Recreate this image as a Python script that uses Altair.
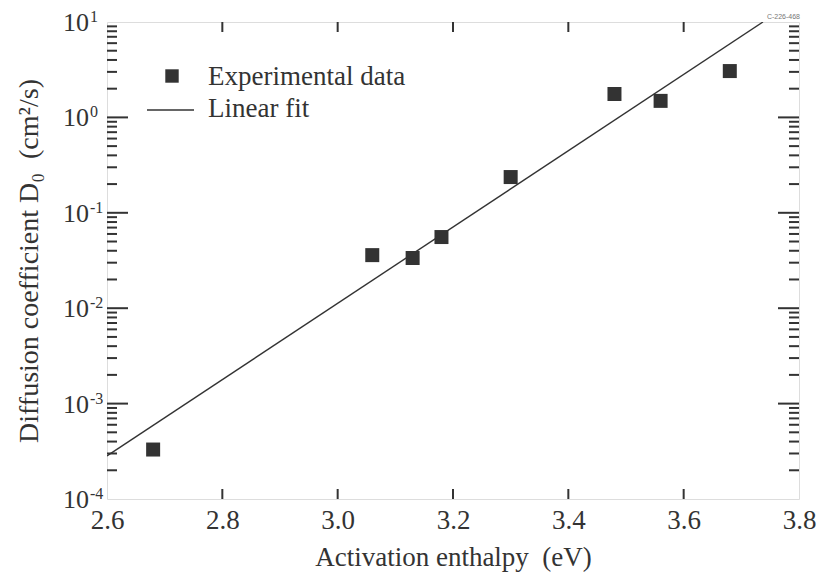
import altair as alt
import pandas as pd

# ---- data ----
energy = [2.68, 3.06, 3.13, 3.18, 3.30, 3.48, 3.56, 3.68]
d0 = [3.3e-4, 0.036, 0.0336, 0.0557, 0.237, 1.76, 1.49, 3.06]
fit_energy = [2.6, 3.7375]
fit_d0 = [2.83e-4, 10.0]
x_ticks = [2.6, 2.8, 3.0, 3.2, 3.4, 3.6, 3.8]
y_decades = [1e-4, 1e-3, 1e-2, 1e-1, 1e0, 1e1]
y_exponents = ["-4", "-3", "-2", "-1", "0", "1"]
legend_labels = ["Experimental data", "Linear fit"]
x_title = "Activation enthalpy\u00a0 (eV)"
y_title = "Diffusion coefficient D\u2080\u00a0 (cm\u00b2/s)"
stamp = "C-226-468"

W, H = 692, 477
INK = "#333333"
FONT = "Liberation Serif"

y_minor = [d * k for d in y_decades[:-1] for k in range(2, 10)]

pts = pd.DataFrame({"E": energy, "D": d0})
fit = pd.DataFrame({"E": fit_energy, "D": fit_d0})
xt = pd.DataFrame({"E": x_ticks[1:-1]})
ymaj = pd.DataFrame({"D": y_decades[1:-1]})
ymin = pd.DataFrame({"D": y_minor})
ylab = pd.DataFrame({"D": y_decades, "exp": y_exponents, "base": ["10"] * len(y_decades)})

xs = alt.Scale(domain=[2.6, 3.8], nice=False, zero=False)
ys = alt.Scale(type="log", domain=[1e-4, 10], nice=False)

X = alt.X("E:Q", scale=xs, axis=alt.Axis(
    values=x_ticks, format=".1f", labelFont=FONT, labelFontSize=27, labelColor=INK,
    ticks=False, domain=False, grid=False, labelPadding=8, labelFlush=False,
    title=x_title, titleFont=FONT, titleFontSize=27, titleFontWeight="normal",
    titleColor=INK, titlePadding=11))
Y = alt.Y("D:Q", scale=ys, axis=None)

TW = 2
points = alt.Chart(pts).mark_point(shape="square", filled=True, size=196, color=INK, opacity=1).encode(x=X, y=Y)
line = alt.Chart(fit).mark_line(color=INK, strokeWidth=1.4, clip=True).encode(x=X, y=Y)

# inward ticks
ymaj_l = alt.Chart(ymaj).mark_rule(color=INK, strokeWidth=TW).encode(x=alt.value(0), x2=alt.value(21), y=Y)
ymaj_r = alt.Chart(ymaj).mark_rule(color=INK, strokeWidth=TW).encode(x=alt.value(W), x2=alt.value(W - 21), y=Y)
ymin_l = alt.Chart(ymin).mark_rule(color=INK, strokeWidth=TW).encode(x=alt.value(0), x2=alt.value(10), y=Y)
ymin_r = alt.Chart(ymin).mark_rule(color=INK, strokeWidth=TW).encode(x=alt.value(W), x2=alt.value(W - 10), y=Y)
xb = alt.Chart(xt).mark_rule(color=INK, strokeWidth=TW).encode(x=X, y=alt.value(H), y2=alt.value(H - 10))
xtp = alt.Chart(xt).mark_rule(color=INK, strokeWidth=TW).encode(x=X, y=alt.value(0), y2=alt.value(10))

# y tick labels: 10 with superscript exponent
ybase = alt.Chart(ylab).mark_text(font=FONT, fontSize=26, align="right", baseline="alphabetic",
                                   dy=9, color=INK).encode(x=alt.value(-18), y=Y, text="base:N")
yexp = alt.Chart(ylab).mark_text(font=FONT, fontSize=16, align="left", baseline="alphabetic",
                                  dy=0, color=INK).encode(x=alt.value(-17), y=Y, text="exp:N")

ytitle = alt.Chart(pd.DataFrame({"t": [y_title]})).mark_text(
    font=FONT, fontSize=28, angle=270, align="center", baseline="middle", color=INK
).encode(x=alt.value(-77), y=alt.value(239), text="t:N")

# legend
leg_pt = alt.Chart(pd.DataFrame({"k": [legend_labels[0]]})).mark_point(
    shape="square", filled=True, size=180, color=INK, opacity=1
).encode(x=alt.value(65), y=alt.value(54))
leg_ln = alt.Chart(pd.DataFrame({"k": [legend_labels[1]]})).mark_rule(color=INK, strokeWidth=1.4).encode(
    x=alt.value(40), x2=alt.value(87), y=alt.value(88))
leg_t1 = alt.Chart(pd.DataFrame({"k": [legend_labels[0]]})).mark_text(
    font=FONT, fontSize=27, align="left", baseline="alphabetic", color=INK
).encode(x=alt.value(101), y=alt.value(63), text="k:N")
leg_t2 = alt.Chart(pd.DataFrame({"k": [legend_labels[1]]})).mark_text(
    font=FONT, fontSize=27, align="left", baseline="alphabetic", color=INK
).encode(x=alt.value(101), y=alt.value(95), text="k:N")

stamp_t = alt.Chart(pd.DataFrame({"k": [stamp]})).mark_text(
    font="Liberation Sans", fontSize=7, align="right", baseline="alphabetic", color="#777777"
).encode(x=alt.value(W + 1), y=alt.value(-3), text="k:N")

chart = alt.layer(
    line, points, ymaj_l, ymaj_r, ymin_l, ymin_r, xb, xtp, ybase, yexp, ytitle,
    leg_pt, leg_ln, leg_t1, leg_t2, stamp_t
).properties(
    width=W, height=H,
    autosize=alt.AutoSizeParams(type="none"),
    padding={"left": 107, "top": 22, "right": 22, "bottom": 75},
).configure_view(stroke=INK, strokeWidth=2).configure(background="white")

chart.save("out.html", embed_options={"renderer": "svg", "actions": False})
